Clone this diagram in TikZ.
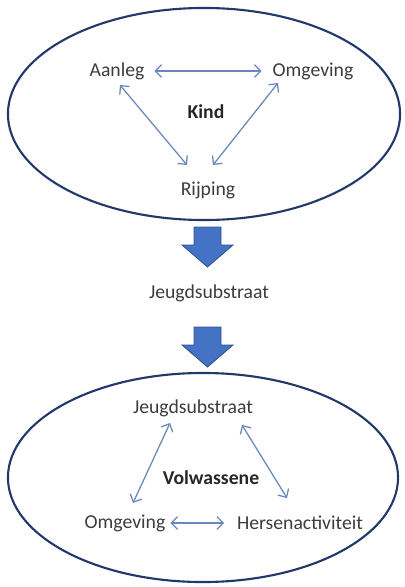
\documentclass[tikz,border=0pt]{standalone}
\usepackage{fontspec}
\setmainfont{Carlito}
\usetikzlibrary{calc, arrows.meta}

\definecolor{rimblue}{HTML}{22386A}
\definecolor{linkblue}{HTML}{6A88BA}
\definecolor{blockfill}{HTML}{4472C4}
\definecolor{blockline}{HTML}{2F528F}
\definecolor{ink}{HTML}{3C3C3C}

\begin{document}
\begin{tikzpicture}[x=0.025cm, y=-0.025cm,
  word/.style={text=ink, font=\fontsize{14}{16}\selectfont},
  heading/.style={text=black!85, font=\fontsize{14}{16}\selectfont\bfseries},
  rim/.style={draw=rimblue, line width=1.5pt},
  twoway/.style={draw=linkblue, line width=0.9pt,
    {Straight Barb[length=4.5pt, width=9pt]}-{Straight Barb[length=4.5pt, width=9pt]}},
  block/.style={fill=blockfill, draw=blockline, line width=0.6pt, line join=miter}]

% Page
\useasboundingbox (0,0) rectangle (404,587);

% Fat down arrow, top at #1
\newcommand{\fatarrow}[1]{
  \draw[block] (194,#1) -- (221,#1) -- (221,#1+18) -- (233,#1+18)
    -- (207.5,#1+40) -- (182,#1+18) -- (194,#1+18) -- cycle;
}

% Child
\draw[rim] (204,114) ellipse [x radius=4.9cm, y radius=2.65cm];
\node[word] (aanleg) at (117,71) {Aanleg};
\node[word] (omgevingK) at (313,71) {Omgeving};
\node[heading] (kind) at (206,112) {Kind};
\node[word] (rijping) at (208,190) {Rijping};

\draw[twoway] ($ (aanleg.east) + (5,0) $) -- ($ (omgevingK.west) + (-6,0) $);
\draw[twoway] ($ (aanleg) + (3,14) $) -- ($ (rijping) + (-21,-25) $);
\draw[twoway] ($ (omgevingK) + (-35,12) $) -- ($ (rijping) + (5,-25) $);

% Between
\fatarrow{227}
\node[word] (substraat) at (209,293) {Jeugdsubstraat};
\fatarrow{327}

% Adult
\draw[rim] (203,477.5) ellipse [x radius=4.875cm, y radius=2.6125cm];
\node[word] (jeugd) at (193,408) {Jeugdsubstraat};
\node[heading] (volwassene) at (211,478) {Volwassene};
\node[word] (omgevingV) at (125,523) {Omgeving};
\node[word] (hersen) at (300,523) {Hersenactiviteit};

\draw[twoway] (omgevingV.east) -- ($ (hersen.west) + (-8,0) $);
\draw[twoway] ($ (jeugd) + (-23,15) $) -- ($ (omgevingV) + (8,-20) $);
\draw[twoway] ($ (jeugd) + (49,17) $) -- ($ (hersen) + (-13,-25) $);

\end{tikzpicture}
\end{document}
